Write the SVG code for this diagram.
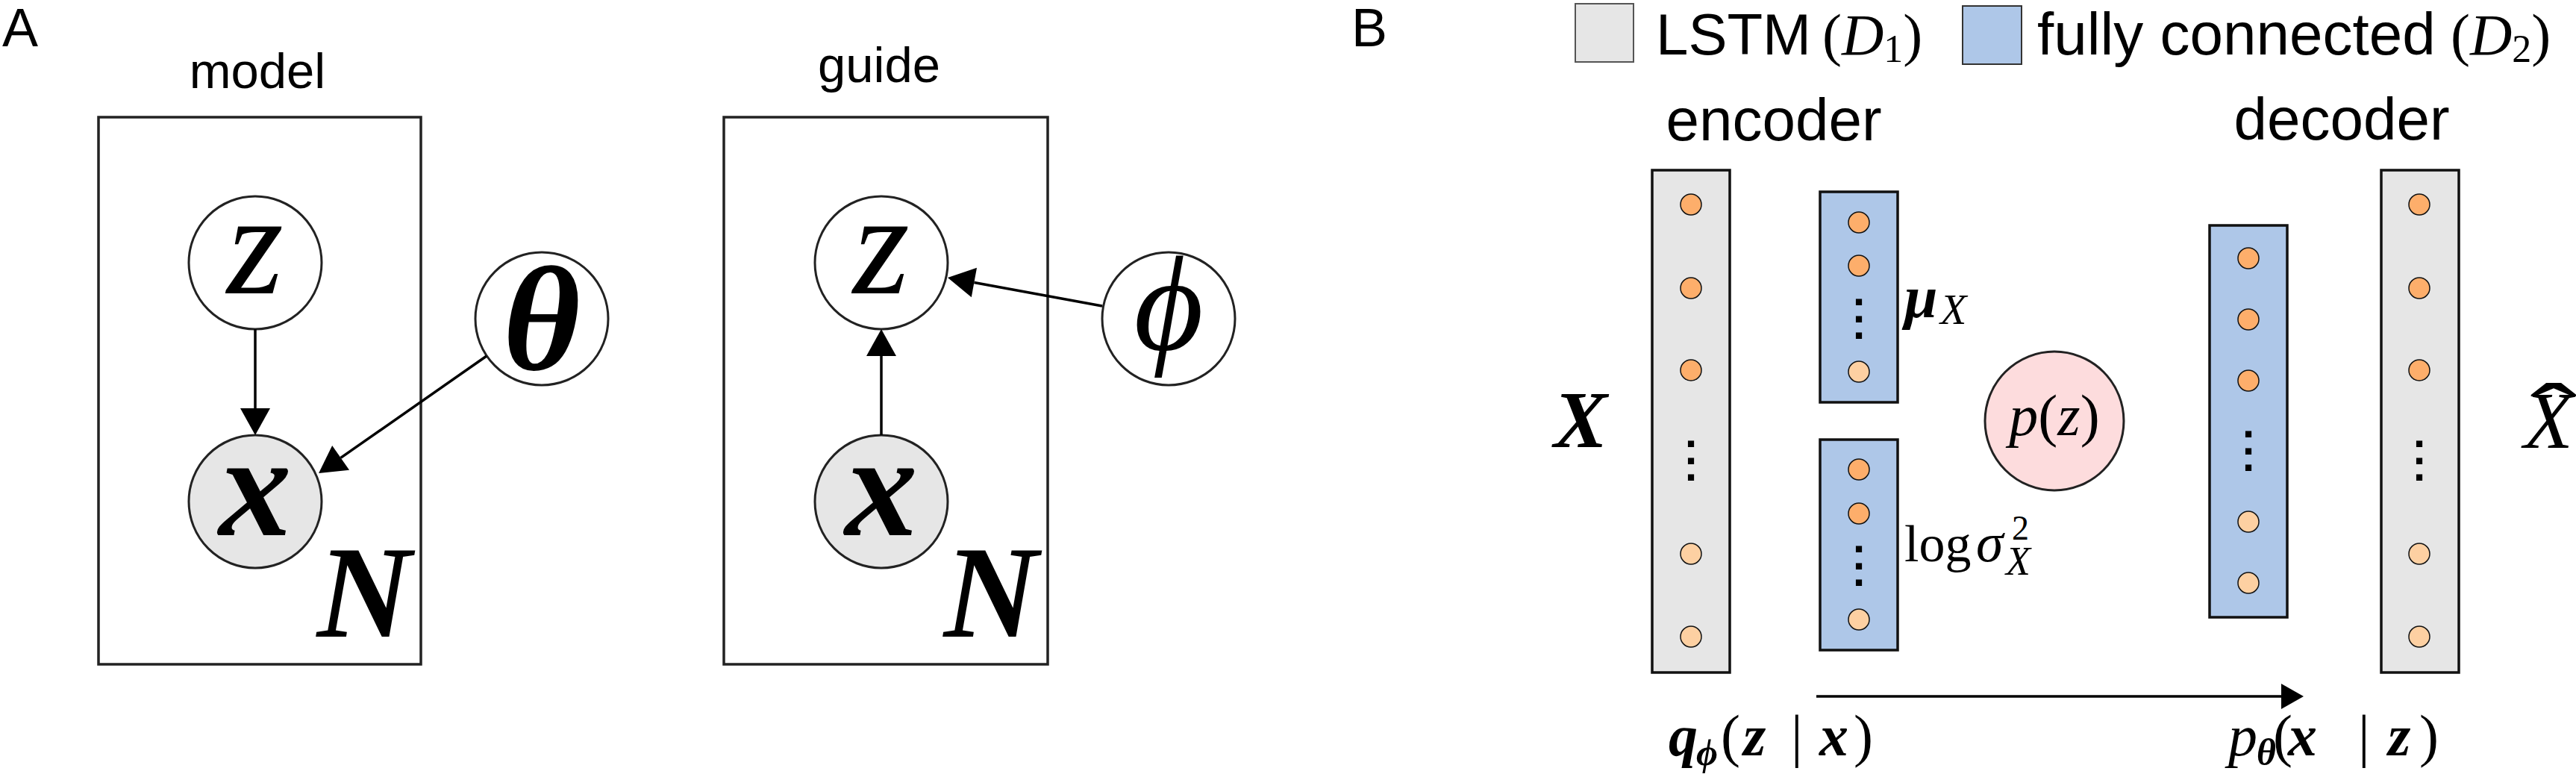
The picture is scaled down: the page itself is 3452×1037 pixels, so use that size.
<svg xmlns="http://www.w3.org/2000/svg" width="3452" height="1037" viewBox="0 0 3452 1037">
<style>
.sans{font-family:"Liberation Sans",Arial,sans-serif;fill:#000}
.m{font-family:"Liberation Serif","DejaVu Serif",serif;fill:#000}
.i{font-style:italic}
.b{font-weight:bold}
.plate{fill:none;stroke:#222;stroke-width:3.5}
.node{fill:#fff;stroke:#222;stroke-width:3}
.obs{fill:#e6e6e6}
.edge{stroke:#000;stroke-width:3.5;fill:none}
.lstm{fill:#e6e6e6;stroke:#111;stroke-width:3.5}
.fc{fill:#aec7e8;stroke:#111;stroke-width:3.5}
.u1{fill:#fdae6b;stroke:#111;stroke-width:1.5}
.u2{fill:#fdd0a2;stroke:#111;stroke-width:1.5}
.dots{font-family:"Liberation Sans",Arial,sans-serif;font-weight:bold;font-size:58px;text-anchor:middle}
</style>
<defs>
<marker id="ah" markerUnits="userSpaceOnUse" markerWidth="40" markerHeight="44" viewBox="0 -22 38 44" refX="0" refY="0" orient="auto" overflow="visible">
<path d="M0,-20 L36,0 L0,20 z" fill="#000"/>
</marker>
<marker id="ah2" markerUnits="userSpaceOnUse" markerWidth="34" markerHeight="38" viewBox="0 -19 32 38" refX="0" refY="0" orient="auto" overflow="visible">
<path d="M0,-17 L30,0 L0,17 z" fill="#000"/>
</marker>
</defs>

<!-- Panel A -->
<text class="sans" x="3" y="62" font-size="72">A</text>
<text class="sans" x="345" y="118" font-size="67" text-anchor="middle">model</text>
<text class="sans" x="1178" y="110" font-size="67" text-anchor="middle">guide</text>

<g id="plate-model">
<rect class="plate" x="132" y="157" width="432" height="733"/>
<text class="m i b" x="488" y="853" font-size="175" text-anchor="middle">N</text>
</g>
<g id="plate-guide">
<rect class="plate" x="970" y="157" width="434" height="733"/>
<text class="m i b" x="1328" y="853" font-size="175" text-anchor="middle">N</text>
</g>

<g id="model-z"><circle class="node" cx="342" cy="352" r="89"/><text class="m i" x="342" y="393" font-size="195" text-anchor="middle">z</text></g>
<g id="model-x"><circle class="node obs" cx="342" cy="672" r="89"/><text class="m i b" x="342" y="717" font-size="195" text-anchor="middle">x</text></g>
<g id="model-theta"><circle class="node" cx="726" cy="427" r="89"/><text class="m i b" x="726" y="495" font-size="200" text-anchor="middle">θ</text></g>

<g id="guide-z"><circle class="node" cx="1181" cy="352" r="89"/><text class="m i" x="1181" y="393" font-size="195" text-anchor="middle">z</text></g>
<g id="guide-x"><circle class="node obs" cx="1181" cy="672" r="89"/><text class="m i b" x="1181" y="717" font-size="195" text-anchor="middle">x</text></g>
<g id="guide-phi"><circle class="node" cx="1566" cy="427" r="89"/><text class="m i" x="1566" y="468" font-size="180" text-anchor="middle">ϕ</text></g>

<g id="connectors-A">
<line class="edge" x1="342" y1="441" x2="342" y2="547" marker-end="url(#ah)"/>
<line class="edge" x1="652" y1="477" x2="456.6" y2="613.4" marker-end="url(#ah)"/>
<line class="edge" x1="1181" y1="583" x2="1181" y2="477" marker-end="url(#ah)"/>
<line class="edge" x1="1477" y1="410" x2="1305.4" y2="378.5" marker-end="url(#ah)"/>
</g>

<!-- Panel B -->
<text class="sans" x="1811" y="62" font-size="72">B</text>

<g id="legend">
<rect x="2111" y="5" width="78" height="78" fill="#e6e6e6" stroke="#555" stroke-width="2"/>
<text class="sans" x="2219" y="73" font-size="78">LSTM</text>
<text class="m" x="2442" y="73" font-size="78">(<tspan class="i">D</tspan><tspan font-size="52" dy="10">1</tspan><tspan dy="-10">)</tspan></text>
<rect x="2630" y="8" width="79" height="78" fill="#aec7e8" stroke="#333" stroke-width="2"/>
<text class="sans" x="2730" y="73" font-size="80">fully connected</text>
<text class="m" x="3284" y="73" font-size="78">(<tspan class="i">D</tspan><tspan font-size="52" dy="10">2</tspan><tspan dy="-10">)</tspan></text>
</g>

<text class="sans" x="2377" y="188" font-size="80" text-anchor="middle">encoder</text>
<text class="sans" x="3138" y="187" font-size="80" text-anchor="middle">decoder</text>

<text class="m i b" x="2118" y="599" font-size="108" text-anchor="middle">X</text>
<g id="xhat-label">
<text class="m i" x="3415" y="600" font-size="108" text-anchor="middle">X</text>
<text class="m" x="3422" y="597" font-size="120" text-anchor="middle" transform="translate(3422 0) scale(1.6 1) translate(-3422 0)">ˆ</text>
</g>

<g id="encoder-lstm">
<rect class="lstm" x="2214" y="228" width="104" height="673"/>
<circle class="u1" cx="2266" cy="274" r="14"/>
<circle class="u1" cx="2266" cy="386" r="14"/>
<circle class="u1" cx="2266" cy="496" r="14"/>
<circle class="u2" cx="2266" cy="742" r="14"/>
<circle class="u2" cx="2266" cy="853" r="14"/>
<text class="dots" x="2266" y="599">.<tspan x="2266" dy="22.5">.</tspan><tspan x="2266" dy="22.5">.</tspan></text>
</g>

<g id="encoder-mu">
<rect class="fc" x="2439" y="257" width="104" height="282"/>
<circle class="u1" cx="2491" cy="298" r="14"/>
<circle class="u1" cx="2491" cy="356" r="14"/>
<circle class="u2" cx="2491" cy="498" r="14"/>
<text class="dots" x="2491" y="409">.<tspan x="2491" dy="22.5">.</tspan><tspan x="2491" dy="22.5">.</tspan></text>
<text class="m" x="2552" y="425" font-size="80"><tspan class="i b">μ</tspan><tspan class="i" x="2600" y="434" font-size="58">X</tspan></text>
</g>

<g id="encoder-logvar">
<rect class="fc" x="2439" y="589" width="104" height="282"/>
<circle class="u1" cx="2491" cy="629" r="14"/>
<circle class="u1" cx="2491" cy="688" r="14"/>
<circle class="u2" cx="2491" cy="830" r="14"/>
<text class="dots" x="2491" y="740">.<tspan x="2491" dy="22.5">.</tspan><tspan x="2491" dy="22.5">.</tspan></text>
<text class="m" x="2552" y="752" font-size="70">log <tspan class="i" x="2648" font-size="74">σ</tspan><tspan x="2696" y="723" font-size="46">2</tspan><tspan class="i" x="2688" y="770" font-size="54">X</tspan></text>
</g>

<g id="prior">
<circle cx="2753" cy="564" r="93" fill="#fddcdd" stroke="#222" stroke-width="3"/>
<text class="m" x="2753" y="583" font-size="78" text-anchor="middle"><tspan class="i">p</tspan>(<tspan class="i">z</tspan>)</text>
</g>

<g id="decoder-fc">
<rect class="fc" x="2961" y="302" width="104" height="525"/>
<circle class="u1" cx="3013" cy="346" r="14"/>
<circle class="u1" cx="3013" cy="428" r="14"/>
<circle class="u1" cx="3013" cy="510" r="14"/>
<circle class="u2" cx="3013" cy="699" r="14"/>
<circle class="u2" cx="3013" cy="781" r="14"/>
<text class="dots" x="3013" y="586">.<tspan x="3013" dy="22.5">.</tspan><tspan x="3013" dy="22.5">.</tspan></text>
</g>

<g id="decoder-lstm">
<rect class="lstm" x="3191" y="228" width="104" height="673"/>
<circle class="u1" cx="3242" cy="274" r="14"/>
<circle class="u1" cx="3242" cy="386" r="14"/>
<circle class="u1" cx="3242" cy="496" r="14"/>
<circle class="u2" cx="3242" cy="742" r="14"/>
<circle class="u2" cx="3242" cy="853" r="14"/>
<text class="dots" x="3242" y="599">.<tspan x="3242" dy="22.5">.</tspan><tspan x="3242" dy="22.5">.</tspan></text>
</g>

<g id="connectors-B">
<line class="edge" x1="2434" y1="933" x2="3057" y2="933" marker-end="url(#ah2)"/>
</g>

<text class="m" y="1012" font-size="78"><tspan class="i b" x="2236">q</tspan><tspan class="i b" x="2273" y="1025" font-size="50">ϕ</tspan><tspan x="2306" y="1012">(</tspan><tspan class="i b" x="2336">z</tspan><tspan x="2400">|</tspan><tspan class="i b" x="2438">x</tspan><tspan x="2484">)</tspan></text>
<text class="m" y="1012" font-size="78"><tspan class="i" x="2986">p</tspan><tspan class="i b" x="3024" y="1025" font-size="50">θ</tspan><tspan x="3046" y="1012">(</tspan><tspan class="i b" x="3066">x</tspan><tspan x="3160">|</tspan><tspan class="i b" x="3200">z</tspan><tspan x="3242">)</tspan></text>
</svg>
